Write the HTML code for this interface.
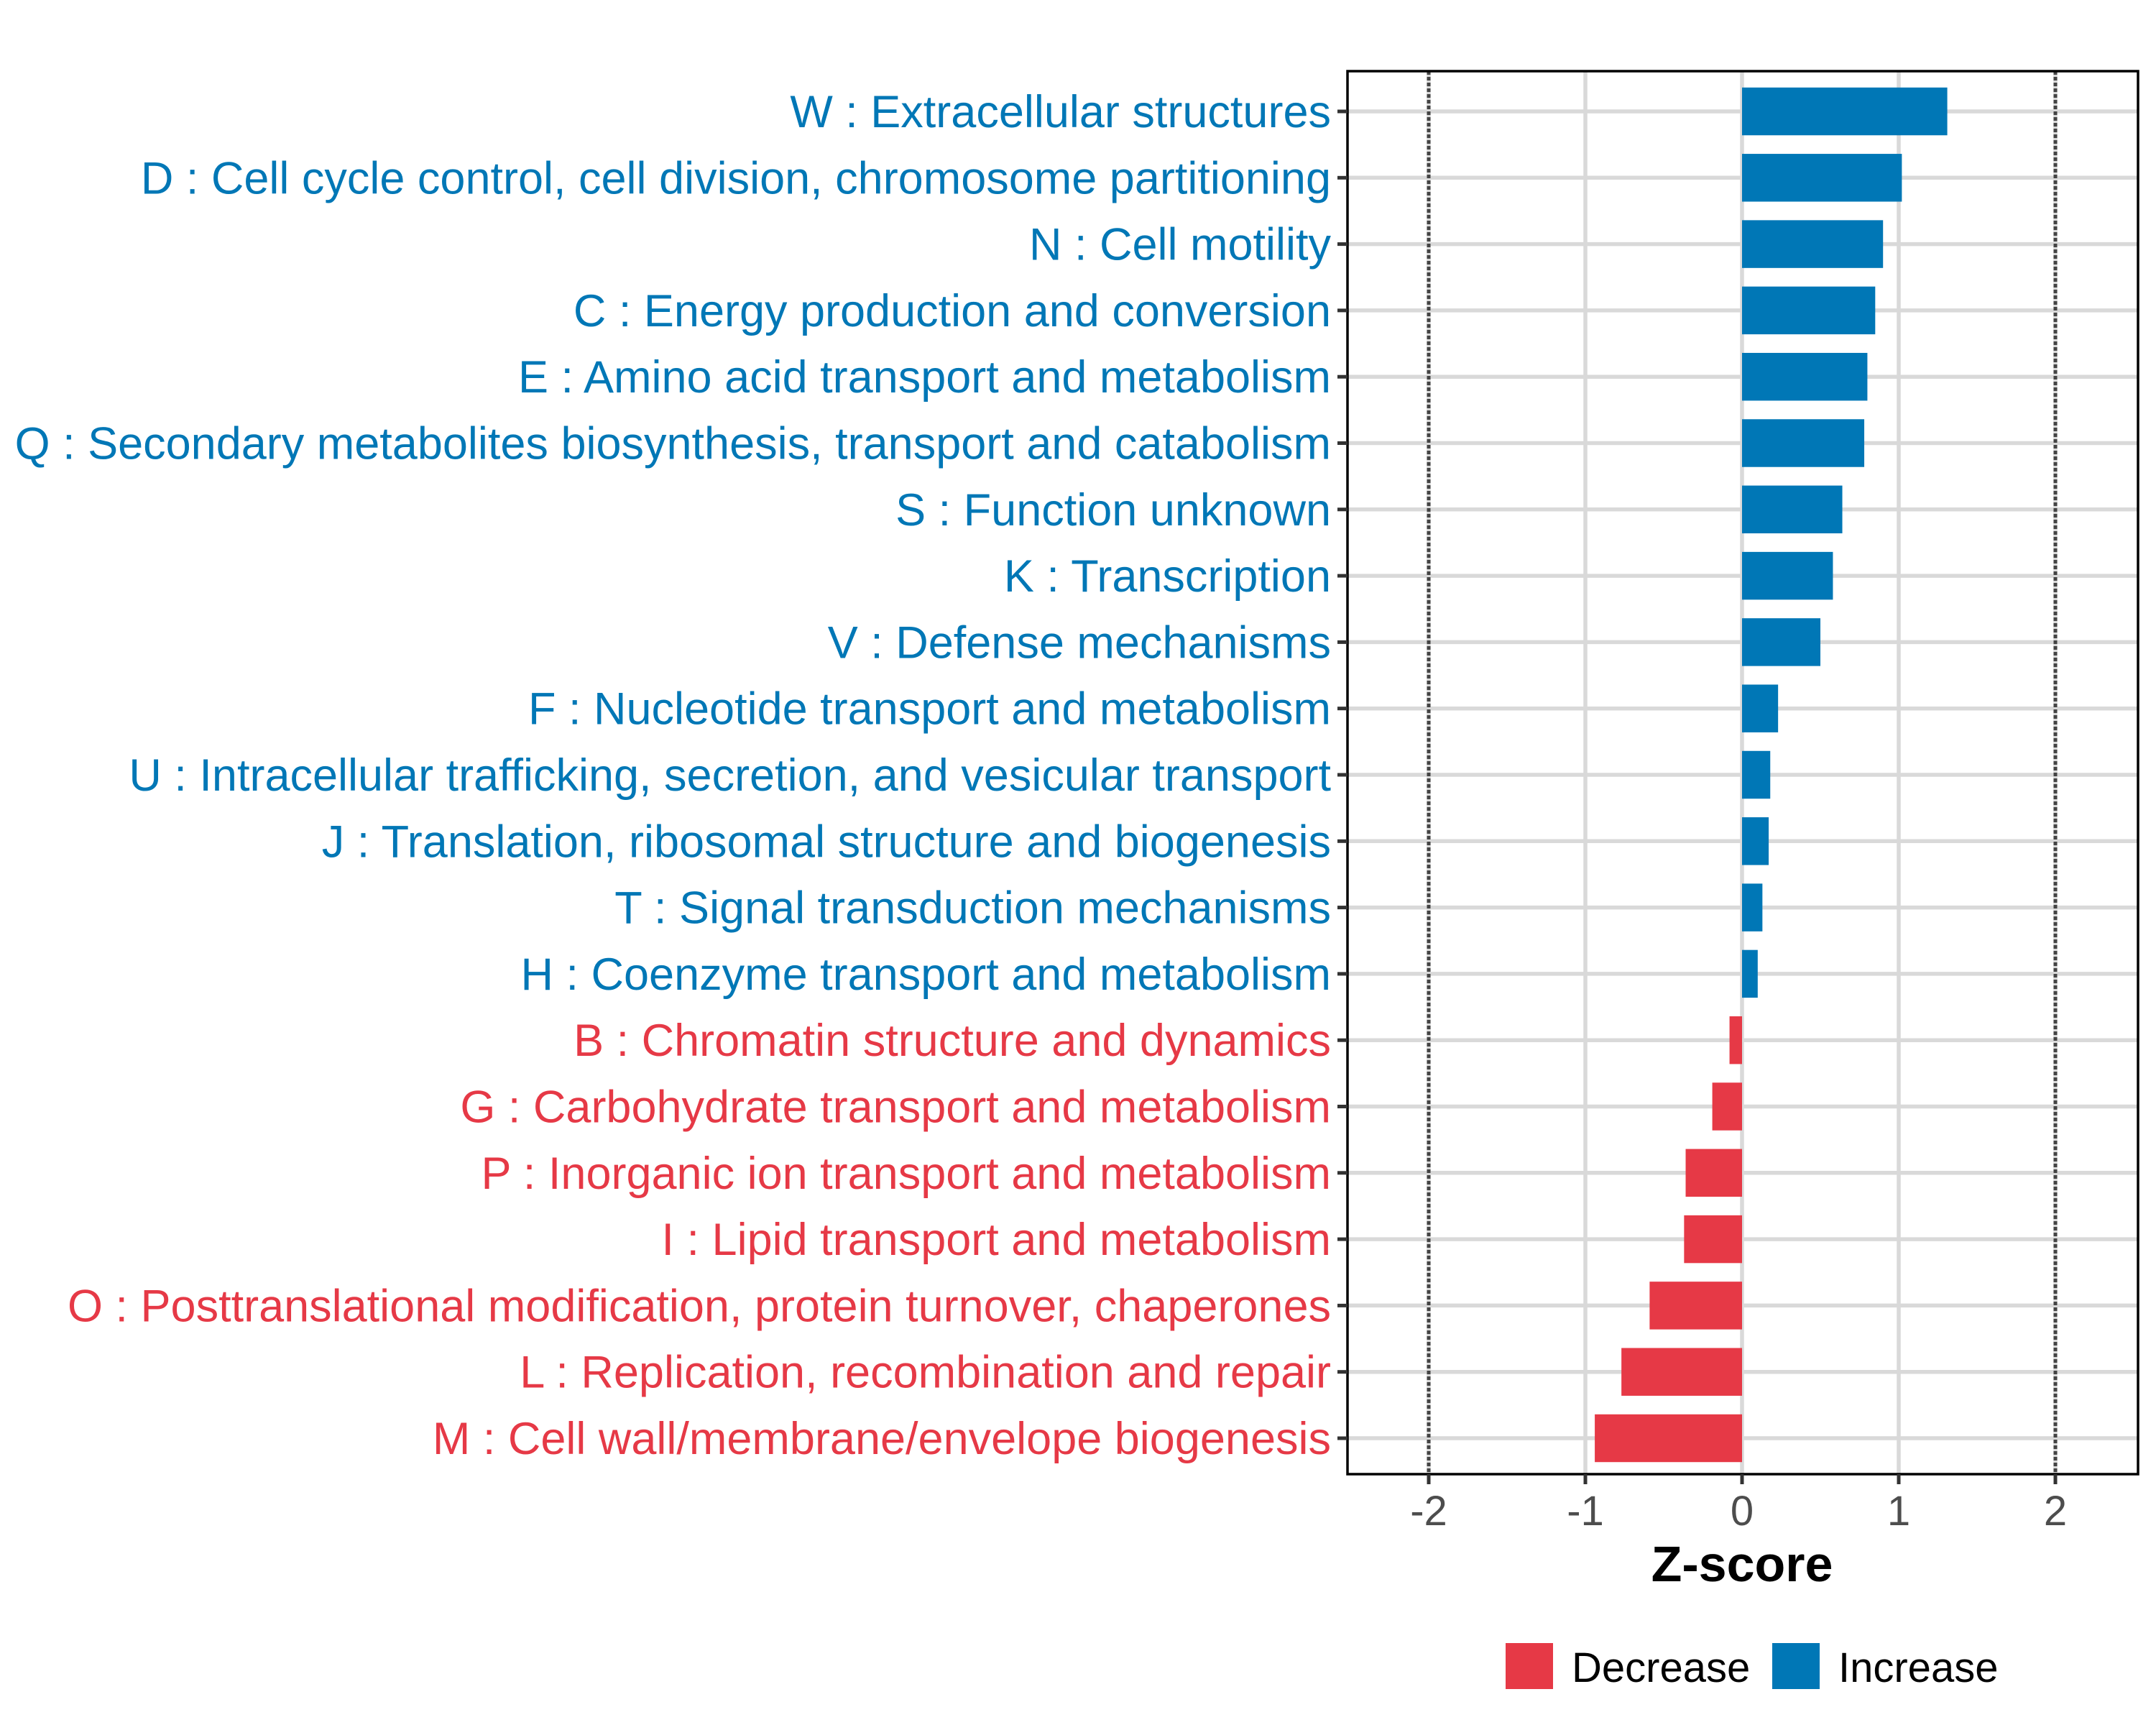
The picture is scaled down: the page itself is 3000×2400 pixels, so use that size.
<!DOCTYPE html>
<html><head><meta charset="utf-8">
<style>
html,body{margin:0;padding:0;background:#fff;}
svg{display:block;font-family:"Liberation Sans",Arial,sans-serif;}
</style></head>
<body>
<svg id="chart" width="3000" height="2400" viewBox="0 0 3000 2400" xmlns="http://www.w3.org/2000/svg">
<rect x="0" y="0" width="3000" height="2400" fill="#fff"/>
<g id="grid"></g>
<g id="bars"></g>
<g id="refs"></g>
<rect x="1875" y="99" width="1100" height="1952" fill="none" stroke="#000" stroke-width="3.5"/>
<g id="yaxis"></g>
<g id="xaxis"></g>
<text x="2424" y="2200" text-anchor="middle" font-size="70" font-weight="bold" fill="#000">Z-score</text>
<g>
  <rect x="2095" y="2286" width="66" height="64" fill="#E63946"/>
  <text x="2187" y="2340" font-size="58" fill="#000">Decrease</text>
  <rect x="2466" y="2286" width="66" height="64" fill="#0077B6"/>
  <text x="2558" y="2340" font-size="58" fill="#000">Increase</text>
</g>
</svg>
<script>
const categories = [
 "W : Extracellular structures",
 "D : Cell cycle control, cell division, chromosome partitioning",
 "N : Cell motility",
 "C : Energy production and conversion",
 "E : Amino acid transport and metabolism",
 "Q : Secondary metabolites biosynthesis, transport and catabolism",
 "S : Function unknown",
 "K : Transcription",
 "V : Defense mechanisms",
 "F : Nucleotide transport and metabolism",
 "U : Intracellular trafficking, secretion, and vesicular transport",
 "J : Translation, ribosomal structure and biogenesis",
 "T : Signal transduction mechanisms",
 "H : Coenzyme transport and metabolism",
 "B : Chromatin structure and dynamics",
 "G : Carbohydrate transport and metabolism",
 "P : Inorganic ion transport and metabolism",
 "I : Lipid transport and metabolism",
 "O : Posttranslational modification, protein turnover, chaperones",
 "L : Replication, recombination and repair",
 "M : Cell wall/membrane/envelope biogenesis"
];
const zscores = [1.31,1.02,0.90,0.85,0.80,0.78,0.64,0.58,0.50,0.23,0.18,0.17,0.13,0.10,-0.08,-0.19,-0.36,-0.37,-0.59,-0.77,-0.94];
const xTicks = [-2,-1,0,1,2];
const xTickLabels = ["-2","-1","0","1","2"];
const refLines = [-2,2];

const NS = "http://www.w3.org/2000/svg";
const X0 = 2424, UNIT = 218;
const panelL = 1875, panelR = 2975, panelT = 99, panelB = 2051;
function xScale(v){ return X0 + v*UNIT; }
const rowTop = 155, rowStep = (2001-155)/(categories.length-1);
function yScale(i){ return rowTop + i*rowStep; }
const barH = 0.72*rowStep;
const BLUE="#0077B6", RED="#E63946";
function mk(tag, attrs, parent){
  const el=document.createElementNS(NS,tag);
  for(const k in attrs) el.setAttribute(k,attrs[k]);
  parent.appendChild(el); return el;
}
const grid=document.getElementById('grid'), bars=document.getElementById('bars'),
 refs=document.getElementById('refs'), yaxis=document.getElementById('yaxis'), xaxis=document.getElementById('xaxis');

xTicks.forEach(function(t){
  const l=mk('line',{x1:xScale(t),x2:xScale(t),y1:panelT,y2:panelB,stroke:"#d9d9d9","stroke-width":5.5},grid);
  
  
});
categories.forEach(function(c,i){
  const l=mk('line',{x1:panelL,x2:panelR,y1:yScale(i),y2:yScale(i),stroke:"#d9d9d9","stroke-width":5.5},grid);
  
  
});
zscores.forEach(function(v,i){
  const x1=Math.min(xScale(0),xScale(v)), w=Math.abs(xScale(v)-xScale(0));
  const r=mk('rect',{x:x1,y:yScale(i)-barH/2,width:w,height:barH,fill:v>=0?BLUE:RED},bars);
  
  
});
refLines.forEach(function(t){
  const l=mk('line',{x1:xScale(t),x2:xScale(t),y1:panelT,y2:panelB,stroke:"#444","stroke-width":5,"stroke-dasharray":"5 3"},refs);
  
  
});
categories.forEach(function(c,i){
  const tk=mk('line',{x1:panelL-14,x2:panelL,y1:yScale(i),y2:yScale(i),stroke:"#333","stroke-width":5},yaxis);
  
  
  const t=mk('text',{x:1852,y:yScale(i)+22,"text-anchor":"end","font-size":63,fill:zscores[i]>=0?BLUE:RED},yaxis);
  t.textContent=c;
  
  
});
xTicks.forEach(function(t,i){
  const tk=mk('line',{x1:xScale(t),x2:xScale(t),y1:panelB,y2:panelB+14,stroke:"#333","stroke-width":5},xaxis);
  
  
  const tx=mk('text',{x:xScale(t),y:2122,"text-anchor":"middle","font-size":58,fill:"#4d4d4d"},xaxis);
  tx.textContent=xTickLabels[i];
  
  
});
</script>
</body></html>
